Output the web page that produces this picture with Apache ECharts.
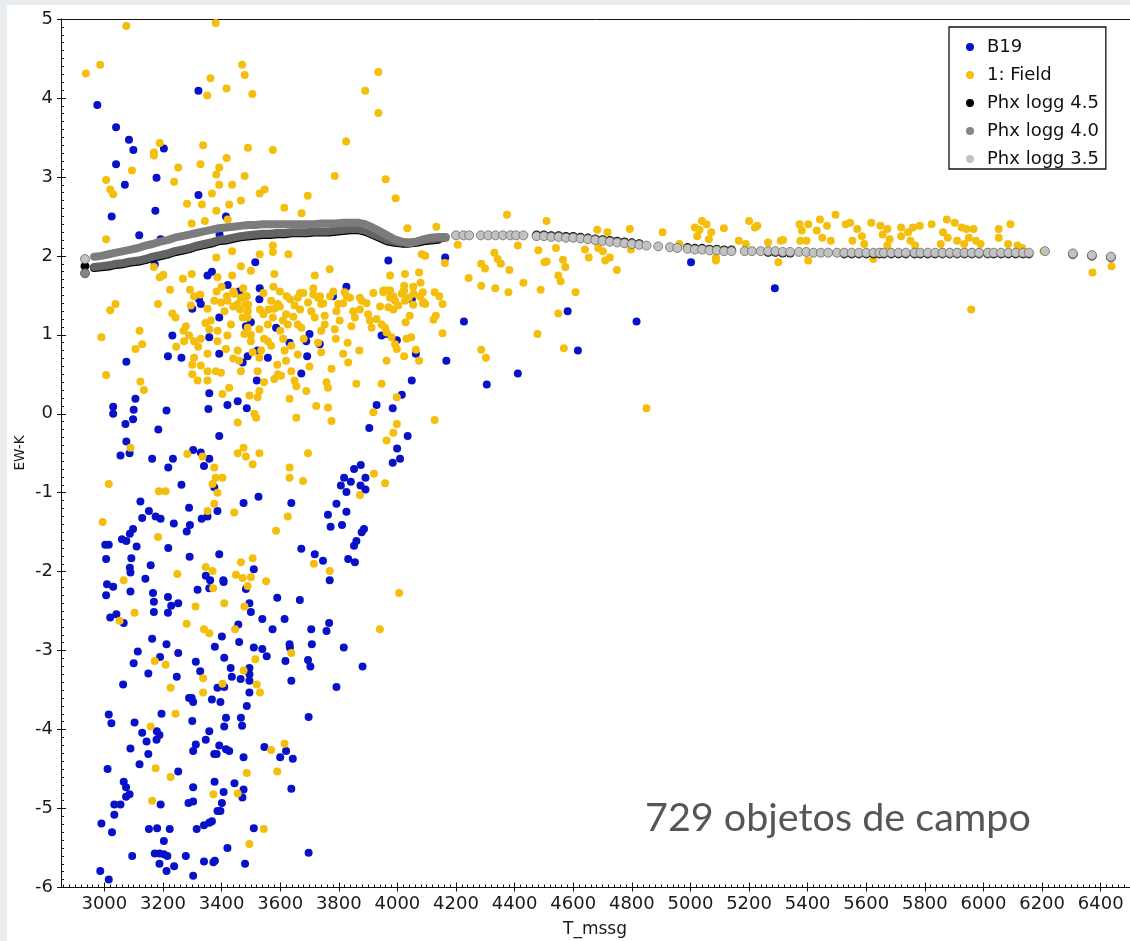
<!DOCTYPE html>
<html>
<head>
<meta charset="utf-8">
<title>EW-K vs T_mssg</title>
<script src="https://cdn.jsdelivr.net/npm/echarts@6/dist/echarts.min.js"></script>
<style>
  html, body { margin: 0; padding: 0; background: #ffffff; }
  #chart { width: 1130px; height: 941px; }
</style>
</head>
<body>
<div id="chart"></div>
<script>
// Tick values of the two axes
const xMajorTicks = [3000, 3200, 3400, 3600, 3800, 4000, 4200, 4400, 4600, 4800, 5000,
                     5200, 5400, 5600, 5800, 6000, 6200, 6400];
const yMajorTicks = [-6, -5, -4, -3, -2, -1, 0, 1, 2, 3, 4, 5];

// B19 objects: [T_mssg, EW-K]
const b19 = [
  [3321,4.09],[2976,3.91],[3040,3.63],[3084,3.47],[3099,3.34],[3203,3.36],[3040,3.16],[3178,2.99],
  [3070,2.90],[3321,2.77],[3174,2.57],[3025,2.50],[3415,2.50],[3119,2.26],[3192,2.21],[3393,2.27],
  [3969,1.94],[3515,1.92],[3352,1.75],[3367,1.80],[3421,1.63],[3460,1.55],[3530,1.59],[3826,1.61],
  [3172,1.89],
  [3323,1.45],[3329,1.39],[3300,1.33],[3392,1.22],[3232,0.99],[3263,0.71],[3217,0.73],[3358,0.97],
  [3392,0.76],[3483,1.11],[3500,1.16],[3529,1.45],[3489,0.73],[3472,0.65],[3523,0.80],[3558,0.71],
  [3586,1.09],[3632,0.90],[3689,0.92],[3700,1.01],[3735,0.88],[3692,0.73],[3672,0.51],[3520,0.42],
  [3780,1.49],[3075,0.66],[3358,0.26],[3455,0.16],[3420,0.11],[3486,0.07],[3355,0.06],[3392,-0.28],
  [3106,0.19],[3100,0.05],[3098,-0.07],[3030,0.09],[3030,0.00],[3212,0.04],[3072,-0.13],[3184,-0.20],
  [3075,-0.35],[3086,-0.50],[3055,-0.53],[3163,-0.57],[3234,-0.57],[3218,-0.68],[3303,-0.46],[3329,-0.49],
  [3340,-0.66],[3358,-0.57],[3375,-0.93],[3263,-0.90],[3386,-1.23],[3289,-1.19],[3475,-1.13],[3526,-1.05],
  [3638,-1.13],[3123,-1.11],[3152,-1.23],[3175,-1.30],[3192,-1.33],[3129,-1.32],[3237,-1.39],[3281,-1.49],
  [3292,-1.41],[3332,-1.33],[3352,-1.30],[3098,-1.46],[3087,-1.52],[3060,-1.59],[3075,-1.61],[3003,-1.66],
  [3015,-1.66],[3110,-1.68],[3006,-1.84],[3092,-1.83],[3158,-1.92],[3218,-1.70],[3291,-1.81],[3087,-1.95],
  [3089,-2.01],[3140,-2.09],[3346,-2.05],[3361,-2.11],[3392,-1.78],[3406,-2.11],[3510,-1.97],[3672,-1.71],
  [3718,-1.78],[3746,-1.86],[3832,-1.84],[3855,-1.88],[3769,-2.11],[3763,-1.28],[3772,-1.43],[3811,-1.41],
  [3792,-1.14],[3826,-1.24],[3852,-1.67],[3860,-1.61],[3878,-1.50],[3886,-1.46],[3807,-0.91],[3818,-0.81],
  [3826,-0.99],[3841,-0.86],[3852,-0.70],[3875,-0.65],[3874,-0.91],[3891,-0.81],[3891,-0.96],[3904,-0.18],
  [3929,0.11],[3984,0.07],[4015,0.24],[4049,0.42],[4035,-0.28],[3999,-0.44],[4009,-0.57],[3984,-0.62],
  [3946,0.99],[3963,1.01],[3998,0.93],[4049,1.45],[4063,0.76],
  [3009,-2.16],[3030,-2.19],[3006,-2.30],[3089,-2.25],[3166,-2.27],[3169,-2.38],[3169,-2.51],[3217,-2.32],
  [3228,-2.43],[3252,-2.40],[3217,-2.52],[3318,-2.23],[3358,-2.21],[3407,-2.13],[3483,-2.22],[3495,-2.40],
  [3500,-2.51],[3590,-2.33],[3667,-2.36],[3020,-2.58],[3041,-2.54],[3066,-2.65],[3163,-2.85],[3212,-2.92],
  [3114,-3.01],[3100,-3.16],[3150,-3.29],[3190,-3.08],[3252,-3.03],[3247,-3.33],[3064,-3.43],[3312,-3.14],
  [3327,-3.26],[3401,-2.82],[3377,-2.95],[3409,-3.09],[3431,-3.22],[3435,-3.33],[3465,-3.36],[3457,-2.67],
  [3460,-2.89],[3495,-3.22],[3495,-3.30],[3495,-3.38],[3495,-3.53],[3539,-2.60],[3574,-2.73],[3510,-2.96],
  [3539,-2.98],[3554,-3.07],[3615,-2.60],[3632,-2.92],[3633,-2.96],[3618,-3.13],[3638,-3.38],[3706,-2.73],
  [3708,-2.92],[3695,-3.12],[3703,-3.20],[3758,-2.75],[3767,-2.65],[3817,-2.96],[3881,-3.20],[3792,-3.46],
  [3697,-3.84],[3289,-3.60],[3298,-3.60],[3303,-3.65],[3367,-3.62],[3396,-3.65],[3386,-3.47],[3409,-3.46],
  [3486,-3.70],[3015,-3.81],[3024,-3.92],[3103,-3.91],[3129,-4.04],[3144,-4.15],[3179,-4.02],[3188,-4.07],
  [3178,-4.13],[3195,-3.80],[3089,-4.24],[3150,-4.31],[3120,-4.44],[3300,-3.89],[3358,-4.02],[3346,-4.13],
  [3312,-4.19],[3303,-4.27],[3415,-3.85],[3409,-3.96],[3466,-3.85],[3470,-3.95],[3392,-4.20],[3415,-4.25],
  [3426,-4.27],[3375,-4.31],[3383,-4.31],[3475,-4.35],[3546,-4.22],[3620,-4.27],[3600,-4.35],[3643,-4.37],
  [3011,-4.50],[3252,-4.53],[3066,-4.66],[3074,-4.73],[3086,-4.82],[3074,-4.85],[3034,-4.95],[3055,-4.95],
  [3034,-5.08],[3192,-4.95],[3303,-4.73],[3287,-4.93],[3303,-4.91],[3376,-4.66],[3407,-4.79],[3444,-4.68],
  [3475,-4.76],[3471,-4.86],[3401,-4.93],[3386,-5.03],[3396,-5.03],[3638,-4.75],[2990,-5.19],[3026,-5.30],
  [3152,-5.26],[3180,-5.25],[3223,-5.26],[3315,-5.26],[3340,-5.21],[3358,-5.18],[3367,-5.16],[3510,-5.25],
  [3203,-5.41],[3420,-5.50],[3697,-5.56],[3095,-5.60],[3172,-5.57],[3188,-5.57],[3203,-5.58],[3215,-5.60],
  [3278,-5.60],[3188,-5.70],[3238,-5.73],[3212,-5.79],[3340,-5.67],[3372,-5.68],[3377,-5.66],[3480,-5.70],
  [3303,-5.85],[2986,-5.79],[3015,-5.90],
  [4163,1.98],[4227,1.17],[4167,0.67],[4305,0.37],[4411,0.51],[4581,1.30],[4616,0.80],[4816,1.17],
  [5002,1.92],[5288,1.59]
];

// Field objects: [T_mssg, EW-K]
const field = [
  [3075,4.91],[3380,4.95],[2937,4.31],[2986,4.42],[3470,4.42],[3479,4.29],[3362,4.25],[3351,4.03],
  [3417,4.12],[3505,4.05],[3935,4.33],[3890,4.09],[3935,3.81],[3825,3.45],[3189,3.43],[3169,3.31],
  [3169,3.27],[3337,3.40],[3490,3.37],[3575,3.34],[3417,3.24],[3094,3.08],[3252,3.12],[3328,3.16],
  [3392,3.12],[3382,3.03],[3479,3.01],[3786,3.01],[3960,2.97],[3006,2.96],[3020,2.84],[3030,2.78],
  [3238,2.94],[3392,2.90],[3436,2.90],[3367,2.79],[3530,2.79],[3547,2.84],[3694,2.76],[3994,2.73],
  [3282,2.66],[3333,2.65],[3426,2.65],[3466,2.70],[3382,2.57],[3614,2.61],[3673,2.54],[3298,2.41],
  [3343,2.44],[3421,2.46],[4034,2.35],[3006,2.21],[3575,2.13],[3575,2.05],[3628,2.02],[3530,2.02],
  [3382,1.98],[3436,2.06],[4083,2.02],[4095,2.00],[3169,1.86],[3189,1.73],[3200,1.75],[3268,1.71],
  [3298,1.77],[3386,1.73],[3436,1.75],[3466,1.87],[3500,1.81],[3580,1.77],[3718,1.75],[3769,1.83],
  [3975,1.75],[4026,1.77],[3952,1.56],[3964,1.56],[3975,1.56],
  [3201,1.76],[3224,1.57],[3292,1.57],[3327,1.51],[3383,1.55],[3400,1.61],[3418,1.49],[3440,1.55],
  [3474,1.59],[3486,1.49],[3543,1.53],[3577,1.61],[3599,1.55],[3622,1.49],[3668,1.53],[3713,1.59],
  [3736,1.49],[3781,1.55],[3827,1.49],[3872,1.47],[3918,1.53],[3986,1.49],[4054,1.61],[4077,1.49],
  [3440,1.36],[3463,1.32],[3480,1.49],[3491,1.38],[3531,1.32],[3543,1.26],[3560,1.32],[3599,1.36],
  [3634,1.45],[3645,1.23],[3668,1.32],[3679,1.53],[3713,1.51],[3747,1.40],[3770,1.49],[3815,1.40],
  [3838,1.47],[3872,1.32],[3895,1.40],[3941,1.36],[3986,1.32],[4020,1.55],[4054,1.38],[4088,1.42],
  [3270,1.05],[3320,0.85],[3345,1.15],[3410,1.30],[3440,0.70],[3500,1.00],[3545,0.95],[3590,0.62],
  [3610,0.95],[3660,0.75],[3700,0.60],[3740,1.05],[3790,0.95],[3830,0.90],[3870,0.80],[3300,0.62],
  [3245,0.85],[3545,0.40],[3600,1.05],[3680,0.95],
  [3020,1.31],[3038,1.39],[2990,0.97],[3120,1.05],[3129,0.88],[3106,0.82],[3183,1.39],[3123,0.41],
  [3135,0.30],[3006,0.49],[3232,1.27],[3243,1.22],[3295,1.37],[3306,1.49],[3278,1.11],[3289,0.99],
  [3272,0.92],[3306,0.92],[3329,0.95],[3306,0.71],[3300,0.50],[3318,0.42],[3352,0.42],[3352,0.54],
  [3329,0.61],[3352,0.76],[3380,0.54],[3398,0.52],[3403,0.25],[3426,0.33],[3352,1.33],[3363,1.18],
  [3358,1.07],[3375,1.43],[3398,1.41],[3420,1.43],[3443,1.52],[3386,1.05],[3386,0.92],[3420,0.99],
  [3415,0.82],[3432,1.13],[3455,1.39],[3466,1.47],[3483,1.39],[3489,1.30],[3472,1.22],[3455,0.80],
  [3460,0.67],[3466,0.54],[3478,1.01],[3489,1.09],[3489,1.22],[3500,0.92],[3506,0.78],[3529,1.07],
  [3535,0.80],[3529,0.71],[3523,0.54],[3529,0.29],[3523,0.21],[3495,0.23],[3512,0.00],[3518,-0.05],
  [3455,-0.11],[3558,0.92],[3569,0.86],[3558,1.13],[3575,1.22],[3569,1.43],[3580,1.33],[3592,1.39],
  [3592,0.50],[3580,0.44],[3603,0.48],[3609,1.18],[3620,1.26],[3626,1.13],[3615,0.80],[3638,0.86],
  [3620,0.67],[3638,0.54],[3649,0.42],[3655,0.35],[3632,0.19],[3655,-0.05],[3649,1.37],[3660,1.47],
  [3660,1.13],[3672,1.09],[3689,0.29],[3695,1.41],[3706,1.30],[3718,1.22],[3723,0.10],[3729,1.47],
  [3740,1.39],[3729,0.90],[3740,0.78],[3758,0.40],[3763,0.33],[3763,0.08],[3775,-0.09],[3775,0.57],
  [3752,1.13],[3752,1.24],[3792,1.30],[3798,1.39],[3786,1.07],[3803,1.18],[3820,1.54],[3815,0.76],
  [3832,0.65],[3849,1.30],[3855,1.22],[3843,1.11],[3878,1.43],[3860,0.38],[3900,1.26],[3906,1.18],
  [3912,1.09],[3918,0.02],[3929,1.20],[3946,1.13],[3958,1.09],[3963,1.03],[3946,0.38],[3952,1.54],
  [3975,1.47],[3969,1.35],[3980,0.97],[3992,0.88],[3998,0.82],[3963,0.67],[3998,0.21],[3998,-0.13],
  [3986,-0.24],[3963,-0.34],[3992,1.43],[4003,1.37],[4015,1.52],[4026,1.43],[3920,-0.76],[3958,-0.88],
  [3872,-1.03],[3695,-0.50],[3632,-0.68],[3632,-0.81],[3678,-0.85],[3626,-1.30],[3586,-1.48],[3443,-1.25],
  [3529,-0.50],[3506,-0.64],[3455,-0.50],[3475,-0.43],[3483,-0.54],[3283,-0.51],[3335,-0.54],[3375,-0.68],
  [3380,-0.81],[3369,-0.89],[3386,-1.00],[3403,-0.81],[3375,-1.14],[3352,-1.23],[3089,-0.43],[3015,-0.89],
  [3186,-0.98],[3209,-0.98],[2994,-1.37],[3183,-1.56],[3346,-1.94],[3369,-1.99],[3249,-2.03],[3066,-2.11],
  [3449,-2.04],[3472,-2.08],[3500,-2.07],[3506,-1.83],[3466,-1.88],[3489,-2.18],[3552,-2.12],[3715,-1.90],
  [3769,-1.99],
  [3371,-2.21],[4006,-2.27],[3103,-2.52],[3052,-2.62],[3311,-2.44],[3409,-2.40],[3478,-2.44],[3281,-2.66],
  [3340,-2.73],[3358,-2.78],[3446,-2.73],[3940,-2.73],[3638,-3.03],[3515,-3.11],[3172,-3.13],[3209,-3.18],
  [3475,-3.25],[3337,-3.35],[3403,-3.42],[3226,-3.47],[3337,-3.53],[3520,-3.43],[3531,-3.53],[3243,-3.80],
  [3158,-3.96],[3615,-4.18],[3569,-4.26],[3590,-4.53],[3486,-4.55],[3175,-4.49],[3226,-4.60],[3372,-4.82],
  [3455,-4.81],[3163,-4.90],[3544,-5.26],[3495,-5.45],
  [4133,2.37],[4374,2.52],[4509,2.44],[4206,2.14],[4411,2.13],[4162,1.91],[4074,1.79],[4079,1.66],
  [4023,1.62],[4023,1.56],[4039,1.47],[4055,1.52],[4087,1.54],[4127,1.54],[4143,1.49],[4154,1.39],
  [4087,1.40],[4095,1.39],[4042,1.24],[4028,1.16],[4131,1.24],[4123,1.19],[4154,1.02],[4047,0.97],
  [4031,0.95],[4023,0.73],[4074,0.67],[4063,0.81],[4127,-0.08],[4243,1.72],[4286,1.90],[4299,1.84],
  [4331,2.04],[4342,1.96],[4353,1.90],[4286,1.62],[4334,1.59],[4379,1.54],[4430,1.66],[4382,1.82],
  [4489,1.57],[4286,0.81],[4302,0.71],[4478,1.01],[4481,2.07],[4502,1.92],[4509,1.93],[4541,2.10],
  [4549,1.75],[4557,1.68],[4565,1.95],[4573,1.86],[4549,1.27],[4568,0.83],[4608,1.54],[4640,2.08],
  [4653,1.98],[4685,2.10],[4701,2.06],[4725,1.98],[4709,1.94],[4749,1.82],[4682,2.33],[4717,2.30],
  [4793,2.34],[4797,2.08],[4850,0.07],[4905,2.30],[4962,2.15],[5015,2.36],[5031,2.33],[5039,2.44],
  [5055,2.40],[5023,2.25],[5071,2.30],[5063,2.21],[5087,1.98],[5087,1.94],[5114,2.35],[5165,2.19],
  [5189,2.15],[5200,2.44],[5220,2.36],[5228,2.38],[5265,2.17],[5300,1.92],[5308,2.19],[5316,2.20],
  [5372,2.40],[5380,2.32],[5402,2.40],[5375,2.19],[5396,2.19],[5402,1.94],[5442,2.46],[5466,2.38],
  [5495,2.52],[5431,2.32],[5450,2.23],[5479,2.19],[5530,2.40],[5545,2.42],[5569,2.34],[5585,2.25],
  [5553,2.19],[5593,2.15],[5617,2.42],[5648,2.38],[5672,2.34],[5656,2.27],[5680,2.21],[5672,2.13],
  [5624,1.96],[5719,2.36],[5743,2.30],[5759,2.36],[5783,2.38],[5719,2.25],[5751,2.19],[5767,2.13],
  [5823,2.40],[5875,2.46],[5902,2.42],[5926,2.36],[5942,2.34],[5966,2.34],[5862,2.30],[5878,2.23],
  [5910,2.19],[5934,2.15],[5974,2.19],[5950,2.23],[5990,2.15],[5854,2.15],[5958,1.32],[6052,2.34],
  [6092,2.40],[6052,2.23],[6084,2.15],[6116,2.13],[6132,2.10],[6205,2.06],[6372,1.79],[6437,1.87]
];

// Phoenix model sequences, cool end (continuous run): [T_mssg, EW-K]
const phxLogg45Band = [
  [2965,1.845],[2990,1.855],[3015,1.865],[3040,1.885],[3065,1.895],[3090,1.915],[3115,1.925],[3140,1.945],
  [3165,1.975],[3190,1.995],[3215,2.015],[3240,2.045],[3265,2.065],[3290,2.085],[3315,2.115],[3340,2.135],
  [3365,2.155],[3390,2.185],[3415,2.195],[3440,2.215],[3465,2.235],[3490,2.245],[3515,2.255],[3540,2.265],
  [3565,2.265],[3590,2.275],[3615,2.275],[3640,2.285],[3665,2.285],[3690,2.285],[3715,2.295],[3740,2.295],
  [3765,2.295],[3790,2.305],[3815,2.315],[3840,2.325],[3865,2.325],[3890,2.305],[3915,2.265],[3940,2.225],
  [3965,2.185],[3990,2.165],[4015,2.155],[4040,2.155],[4065,2.165],[4090,2.185],[4115,2.195],[4140,2.205]
];
const phxLogg40Band = [
  [2965,1.86],[2990,1.87],[3015,1.88],[3040,1.90],[3065,1.91],[3090,1.93],[3115,1.94],[3140,1.96],
  [3165,1.99],[3190,2.01],[3215,2.03],[3240,2.06],[3265,2.08],[3290,2.10],[3315,2.13],[3340,2.15],
  [3365,2.17],[3390,2.20],[3415,2.21],[3440,2.23],[3465,2.25],[3490,2.26],[3515,2.27],[3540,2.28],
  [3565,2.28],[3590,2.29],[3615,2.29],[3640,2.30],[3665,2.30],[3690,2.30],[3715,2.31],[3740,2.31],
  [3765,2.31],[3790,2.32],[3815,2.33],[3840,2.34],[3865,2.34],[3890,2.32],[3915,2.28],[3940,2.24],
  [3965,2.20],[3990,2.18],[4015,2.17],[4040,2.17],[4065,2.18],[4090,2.20],[4115,2.21],[4140,2.22],
  [4165,2.23]
];
const phxLogg35Band = [
  [2965,1.99],[2990,2.00],[3015,2.02],[3040,2.04],[3065,2.06],[3090,2.08],[3115,2.10],[3140,2.13],
  [3165,2.15],[3190,2.18],[3215,2.20],[3240,2.23],[3265,2.25],[3290,2.27],[3315,2.29],[3340,2.31],
  [3365,2.33],[3390,2.35],[3415,2.36],[3440,2.37],[3465,2.38],[3490,2.39],[3515,2.39],[3540,2.40],
  [3565,2.40],[3590,2.40],[3615,2.40],[3640,2.40],[3665,2.40],[3690,2.40],[3715,2.40],[3740,2.41],
  [3765,2.41],[3790,2.41],[3815,2.42],[3840,2.42],[3865,2.42],[3890,2.40],[3915,2.36],[3940,2.31],
  [3965,2.26],[3990,2.21],[4015,2.18],[4040,2.16],[4065,2.18],[4090,2.21],[4115,2.23],[4140,2.24],
  [4165,2.24]
];

// Phoenix model points outside the continuous run: [T_mssg, EW-K]
const phxLogg45Dots = [
  [2934,1.87],
  [4475,2.265],[4500,2.265],[4525,2.255],[4550,2.255],[4575,2.245],[4600,2.245],[4625,2.235],[4650,2.225],
  [4675,2.215],[4700,2.205],[4725,2.195],[4750,2.185],[4775,2.175],[4800,2.165],[4825,2.155],
  [4990,2.105],[5015,2.095],[5040,2.095],[5065,2.085],[5090,2.085],[5115,2.075],[5140,2.075],
  [5265,2.045],[5290,2.045],[5315,2.035],[5340,2.035],
  [5525,2.025],[5550,2.025],[5575,2.025],[5600,2.025],[5625,2.025],[5645,2.025],
  [5660,2.025],[5685,2.025],[5710,2.025],[5735,2.025],[5765,2.025],
  [5785,2.025],[5810,2.025],[5835,2.025],
  [5860,2.025],[5885,2.025],[5910,2.025],[5935,2.025],[5960,2.025],[5985,2.025],[6015,2.025],
  [6035,2.025],[6060,2.025],[6085,2.025],[6110,2.025],[6135,2.025],[6155,2.025]
];
const phxLogg40Dots = [
  [2934,1.78],
  [5860,2.035],[5885,2.035],[5910,2.035],[5935,2.035],[5960,2.035],[5985,2.035],[6015,2.035],
  [6305,2.02],[6370,2.00],[6435,1.98]
];
const phxLogg35Dots = [
  [2934,1.96],
  [4200,2.26],[4225,2.26],[4245,2.26],
  [4285,2.26],[4310,2.26],[4335,2.26],[4360,2.26],[4385,2.26],
  [4405,2.26],[4430,2.26],
  [4475,2.25],[4500,2.25],[4525,2.24],[4550,2.24],[4575,2.23],[4600,2.23],[4625,2.22],[4650,2.21],
  [4675,2.20],[4700,2.19],[4725,2.18],[4750,2.17],[4775,2.16],[4800,2.15],[4825,2.14],
  [4850,2.13],[4890,2.12],[4930,2.11],
  [4955,2.10],
  [4990,2.09],[5015,2.08],[5040,2.08],[5065,2.07],[5090,2.07],[5115,2.06],[5140,2.06],
  [5185,2.06],[5210,2.06],[5240,2.06],
  [5265,2.06],[5290,2.06],[5315,2.05],[5340,2.05],
  [5370,2.05],[5395,2.05],[5420,2.04],[5445,2.04],[5470,2.04],[5500,2.04],
  [5525,2.04],[5550,2.04],[5575,2.04],[5600,2.04],[5625,2.04],[5645,2.04],
  [5660,2.04],[5685,2.04],[5710,2.04],[5735,2.04],[5765,2.04],
  [5785,2.04],[5810,2.04],[5835,2.04],
  [5860,2.04],[5885,2.04],[5910,2.04],[5935,2.04],[5960,2.04],[5985,2.04],[6015,2.04],
  [6035,2.04],[6060,2.04],[6085,2.04],[6110,2.04],[6135,2.04],[6155,2.04],
  [6210,2.06],[6305,2.03],[6370,2.01],[6435,1.99]
];

// Tick positions between labelled ticks (every 20 K and every 0.1)
const X_MIN = 2852, X_MAX = 6500;
const xMinorTicks = [];
for (let v = 2860; v <= X_MAX; v += 20) xMinorTicks.push(v);
const yMinorTicks = [];
for (let i = -60; i <= 50; i++) yMinorTicks.push(i / 10);

const FONT = 'DejaVu Sans';
const AXIS_COLOR = '#111';

function makeXAxis(extra) {
  return Object.assign({
    type: 'value', min: X_MIN, max: X_MAX, position: 'bottom',
    axisLine: { show: false, onZero: false }, splitLine: { show: false },
    axisLabel: { show: false }, axisTick: { show: false }
  }, extra);
}
function makeYAxis(extra) {
  return Object.assign({
    type: 'value', min: -6, max: 5, interval: 1, position: 'left',
    axisLine: { show: false, onZero: false }, splitLine: { show: false },
    axisLabel: { show: false }, axisTick: { show: false }
  }, extra);
}

const chart = echarts.init(document.getElementById('chart'), null, { renderer: 'canvas' });

const dotBase = { type: 'scatter', symbol: 'circle', symbolSize: 9, silent: true };
const bandBase = { type: 'line', showSymbol: false, symbol: 'none', silent: true,
                   connectNulls: false, smooth: false };

chart.setOption({
  animation: false,
  backgroundColor: '#ffffff',
  grid: { left: 61, top: 19, right: 0, bottom: 53.5, show: false },
  xAxis: [
    makeXAxis({
      axisLine: { show: true, onZero: false, lineStyle: { color: AXIS_COLOR, width: 1 } },
      axisTick: { show: true, customValues: xMajorTicks, length: 4, inside: false,
                  lineStyle: { color: AXIS_COLOR } },
      axisLabel: { show: true, customValues: xMajorTicks, margin: 8,
                   formatter: v => String(v),
                   fontFamily: FONT, fontSize: 18, color: '#1a1a1a' }
    }),
    makeXAxis({
      axisTick: { show: true, customValues: xMinorTicks, length: 3, inside: true,
                  lineStyle: { color: AXIS_COLOR } }
    }),
    makeXAxis({
      axisTick: { show: true, customValues: xMajorTicks, length: 5, inside: true,
                  lineStyle: { color: AXIS_COLOR } }
    }),
    makeXAxis({
      position: 'top',
      axisLine: { show: true, onZero: false, lineStyle: { color: AXIS_COLOR, width: 1 } }
    })
  ],
  yAxis: [
    makeYAxis({
      axisLine: { show: true, onZero: false, lineStyle: { color: AXIS_COLOR, width: 1 } },
      axisTick: { show: true, customValues: yMajorTicks, length: 4, inside: false,
                  lineStyle: { color: AXIS_COLOR } },
      axisLabel: { show: true, customValues: yMajorTicks, margin: 8,
                   fontFamily: FONT, fontSize: 18, color: '#1a1a1a' }
    }),
    makeYAxis({
      axisTick: { show: true, customValues: yMinorTicks, length: 3, inside: true,
                  lineStyle: { color: AXIS_COLOR } }
    }),
    makeYAxis({
      axisTick: { show: true, customValues: yMajorTicks, length: 5, inside: true,
                  lineStyle: { color: AXIS_COLOR } }
    })
  ],
  legend: {
    orient: 'vertical', left: 949, top: 27,
    padding: [10, 7, 0, 17],
    itemGap: 8, itemWidth: 8, itemHeight: 8,
    backgroundColor: '#ffffff', borderColor: '#111', borderWidth: 1.3, borderRadius: 0,
    icon: 'circle',
    itemStyle: { borderWidth: 0, opacity: 1 },
    textStyle: { fontFamily: FONT, fontSize: 18, color: '#111', lineHeight: 20, padding: [0, 0, 0, 8] },
    data: [
      { name: 'B19', icon: 'circle', itemStyle: { color: '#0712c8' } },
      { name: '1: Field', icon: 'circle', itemStyle: { color: '#f4be0c' } },
      { name: 'Phx logg 4.5', icon: 'circle', itemStyle: { color: '#000000' } },
      { name: 'Phx logg 4.0', icon: 'circle', itemStyle: { color: '#858585' } },
      { name: 'Phx logg 3.5', icon: 'circle', itemStyle: { color: '#c2c2c2' } }
    ]
  },
  graphic: [
    { type: 'rect', left: 0, top: 0, z: 100, silent: true,
      shape: { width: 7, height: 941 }, style: { fill: '#e9edf0' } },
    { type: 'rect', left: 0, top: 0, z: 100, silent: true,
      shape: { width: 1130, height: 5 }, style: { fill: '#e9edf0' } },
    { type: 'text', x: 20, y: 453, rotation: Math.PI / 2, z: 50, silent: true,
      style: { text: 'EW-K', fontFamily: FONT, fontSize: 13.5, fill: '#1a1a1a',
               align: 'center', verticalAlign: 'middle' } },
    { type: 'text', x: 595, y: 930, z: 50, silent: true,
      style: { text: 'T_mssg', fontFamily: FONT, fontSize: 17, fill: '#1a1a1a',
               align: 'center', verticalAlign: 'middle' } },
    { type: 'text', x: 645, y: 818, z: 50, silent: true,
      style: { text: '729 objetos de campo', fontFamily: 'Lato', fontSize: 39.5, fill: '#565656',
               align: 'left', verticalAlign: 'middle' } }
  ],
  series: [
    { name: 'B19', type: 'scatter', symbol: 'circle', symbolSize: 8, data: b19,
      itemStyle: { color: '#0712c8', opacity: 1 }, z: 2, silent: true },
    { name: '1: Field', type: 'scatter', symbol: 'circle', symbolSize: 8, data: field,
      itemStyle: { color: '#f4be0c', opacity: 1 }, z: 3, silent: true },

    Object.assign({}, dotBase, { name: 'Phx logg 4.5', data: phxLogg45Dots, z: 4,
      itemStyle: { color: '#000000', borderWidth: 0, opacity: 1 } }),
    Object.assign({}, dotBase, { name: 'Phx logg 4.0', data: phxLogg40Dots, z: 5,
      itemStyle: { color: '#858585', borderColor: '#4a4a4a', borderWidth: 0.8, opacity: 1 } }),
    Object.assign({}, dotBase, { name: 'Phx logg 3.5', data: phxLogg35Dots, z: 6,
      itemStyle: { color: '#c2c2c2', borderColor: '#6a6a6a', borderWidth: 0.8, opacity: 1 } }),

    Object.assign({}, bandBase, { name: 'Phx logg 4.5', data: phxLogg45Band, z: 4,
      itemStyle: { color: '#000000' },
      lineStyle: { color: '#000000', width: 8, cap: 'round', join: 'round' } }),
    Object.assign({}, bandBase, { name: 'Phx logg 4.0', data: phxLogg40Band, z: 5,
      itemStyle: { color: '#858585' },
      lineStyle: { color: '#636363', width: 8, cap: 'round', join: 'round' } }),
    Object.assign({}, bandBase, { name: 'Phx logg 3.5', data: phxLogg35Band, z: 6,
      itemStyle: { color: '#c2c2c2' },
      lineStyle: { color: '#7c7c7c', width: 8, cap: 'round', join: 'round' } })
  ]
});
</script>
</body>
</html>
